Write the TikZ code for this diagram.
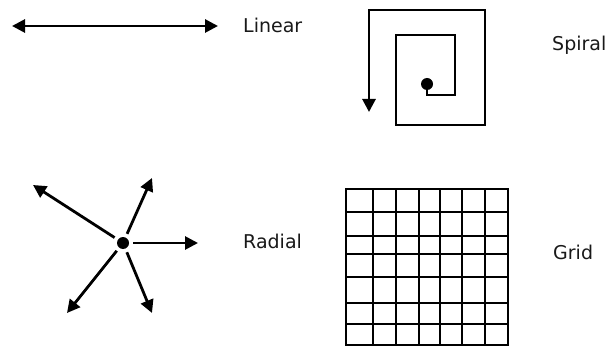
\documentclass[tikz,border=0pt]{standalone}
\usepackage{fontspec}
\setmainfont{DejaVu Sans}
\usetikzlibrary{arrows.meta,positioning}

\begin{document}
\begin{tikzpicture}[
  x=1pt, y=-1pt,
  stroke/.style={line width=2.8pt, line join=miter},
  arrow/.style={stroke, -{Triangle[length=13pt,width=13pt]}},
  dot/.style={circle, fill, inner sep=0pt, minimum size=12pt},
  gridline/.style={line width=2.6pt, line cap=rect},
  tag/.style={anchor=base west, inner sep=0pt, font=\fontsize{19}{22}\selectfont, text=black!90}
]
  \useasboundingbox (0,0) rectangle (609,347);

  % ── LINEAR ──
  \coordinate (linL) at (12,26);
  \coordinate (linR) at (218,26);
  \draw[stroke, {Triangle[length=13pt,width=13pt]}-{Triangle[length=13pt,width=13pt]}]
    (linL) -- (linR);
  \node[tag] (tlinear) at (243,33) {Linear};

  % ── SPIRAL ──
  \node[dot] (score) at (427,84) {};
  \coordinate (send) at (369,112);
  \draw[arrow] (score.center) -- (427,95) -- (455,95) -- (455,35) -- (396,35)
    -- (396,125) -- (485,125) -- (485,10) -- (369,10) -- (send);
  \node[tag] (tspiral) at (552,51) {Spiral};

  % ── RADIAL ──
  \node[dot, outer sep=4pt] (hub) at (123,243) {};
  \coordinate (rA) at (33,185);
  \coordinate (rB) at (152,178);
  \coordinate (rC) at (198,243);
  \coordinate (rD) at (67,313);
  \coordinate (rE) at (152,313);
  \foreach \t in {rA,rB,rC,rD,rE}
    \draw[arrow] (hub) -- (\t);
  \node[tag] (tradial) at (243,248) {Radial};

  % ── GRID ──
  \foreach \x in {346,373,396,419,440,462,485,508}
    \draw[gridline] (\x,189) -- (\x,345);
  \foreach \y in {189,212,236,254,277,303,324,345}
    \draw[gridline] (346,\y) -- (508,\y);
  \node[tag] (tgrid) at (553,259) {Grid};
\end{tikzpicture}
\end{document}
